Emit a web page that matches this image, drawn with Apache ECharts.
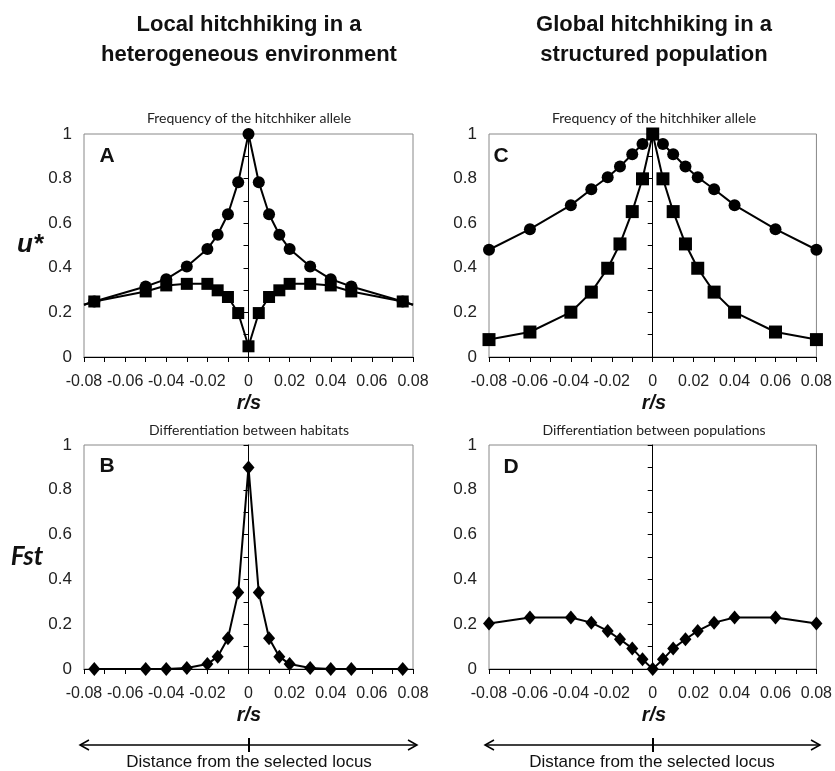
<!DOCTYPE html>
<html>
<head>
<meta charset="utf-8">
<title>Hitchhiking</title>
<script src="https://cdn.jsdelivr.net/npm/echarts@6/dist/echarts.min.js"></script>
<style>
  body { margin: 0; background: #fff; }
  #main { width: 835px; height: 771px; }
</style>
</head>
<body>
<div id="main"></div>
<script>
// r/s positions and values
var xA = [-0.08, -0.075, -0.05, -0.04, -0.03, -0.02, -0.015, -0.01, -0.005, 0, 0.005, 0.01, 0.015, 0.02, 0.03, 0.04, 0.05, 0.075, 0.08];
var circlesA = [0.234, 0.249, 0.316, 0.349, 0.406, 0.484, 0.548, 0.640, 0.784, 1.0, 0.784, 0.640, 0.548, 0.484, 0.406, 0.349, 0.316, 0.249, 0.234];
var squaresA = [0.234, 0.249, 0.294, 0.321, 0.328, 0.328, 0.299, 0.269, 0.197, 0.048, 0.197, 0.269, 0.299, 0.328, 0.328, 0.321, 0.294, 0.249, 0.234];

var xB = [-0.075, -0.05, -0.04, -0.03, -0.02, -0.015, -0.01, -0.005, 0, 0.005, 0.01, 0.015, 0.02, 0.03, 0.04, 0.05, 0.075];
var fstB = [0, 0, 0, 0.004, 0.022, 0.055, 0.137, 0.341, 0.900, 0.341, 0.137, 0.055, 0.022, 0.004, 0, 0, 0];

var xC = [-0.08, -0.06, -0.04, -0.03, -0.022, -0.016, -0.01, -0.005, 0, 0.005, 0.01, 0.016, 0.022, 0.03, 0.04, 0.06, 0.08];
var circlesC = [0.481, 0.573, 0.681, 0.752, 0.806, 0.854, 0.909, 0.955, 1.0, 0.955, 0.909, 0.854, 0.806, 0.752, 0.681, 0.573, 0.481];
var squaresC = [0.078, 0.112, 0.201, 0.291, 0.398, 0.507, 0.652, 0.799, 1.0, 0.799, 0.652, 0.507, 0.398, 0.291, 0.201, 0.112, 0.078];

var xD = xC;
var fstD = [0.203, 0.230, 0.230, 0.207, 0.170, 0.133, 0.092, 0.043, 0, 0.043, 0.092, 0.133, 0.170, 0.207, 0.230, 0.230, 0.203];

// the curves in A run on to the plot edge without a marker there
function pts(xs, ys, bareEnds) {
  return xs.map(function (x, i) {
    var p = { value: [x, ys[i]] };
    if (bareEnds && (i === 0 || i === xs.length - 1)) p.symbol = 'none';
    return p;
  });
}

var grids = [
  { left: 84, top: 134, width: 329, height: 223 },  // A
  { left: 489, top: 134, width: 329, height: 223 }, // C
  { left: 84, top: 445, width: 329, height: 224 },  // B
  { left: 489, top: 445, width: 329, height: 224 }  // D
];

var xAxes = grids.map(function (g, i) {
  return {
    type: 'value', gridIndex: i, min: -0.08, max: 0.08, interval: 0.02,
    axisLine: { show: true, onZero: false, lineStyle: { color: '#000', width: 1 } },
    axisTick: { show: true, length: 5, lineStyle: { color: '#000' } },
    minorTick: { show: true, splitNumber: 2, length: 5, lineStyle: { color: '#000' } },
    splitLine: { show: false },
    axisLabel: { margin: 17, fontFamily: 'Liberation Sans', fontSize: 16, color: '#222' }
  };
});
var yAxes = grids.map(function (g, i) {
  return {
    type: 'value', gridIndex: i, min: 0, max: 1, interval: 0.2,
    axisLine: { show: true, lineStyle: { color: '#000', width: 1 } },
    axisTick: { show: true, length: 5, lineStyle: { color: '#000' } },
    minorTick: { show: true, splitNumber: 2, length: 5, lineStyle: { color: '#000' } },
    splitLine: { show: false },
    axisLabel: { margin: 12, fontFamily: 'Liberation Sans', fontSize: 17, color: '#222' }
  };
});

var zeroLine = {
  silent: true, symbol: 'none', label: { show: false },
  lineStyle: { color: '#000', width: 1, type: 'solid' },
  data: [{ xAxis: 0 }]
};

function curve(gi, data, symbol, size, withZero) {
  var s = {
    type: 'line', xAxisIndex: gi, yAxisIndex: gi, data: data,
    symbol: symbol, symbolSize: size, showAllSymbol: true,
    lineStyle: { color: '#000', width: 2 },
    itemStyle: { color: '#000', borderWidth: 0 },
    animation: false, z: 3
  };
  if (withZero) s.markLine = zeroLine;
  return s;
}

var titleFont = { fontFamily: 'Liberation Sans', fontWeight: 'bold', fontSize: 22, color: '#111', lineHeight: 30 };
var subFont = { fontFamily: 'Lato', fontWeight: 'normal', fontSize: 14, color: '#222' };
var letterFont = { fontFamily: 'Liberation Sans', fontWeight: 'bold', fontSize: 21, color: '#111' };
var rsFont = { fontFamily: 'Liberation Sans', fontWeight: 'bold', fontStyle: 'italic', fontSize: 20, color: '#111' };
var distFont = { fontFamily: 'Liberation Sans', fontWeight: 'normal', fontSize: 17, color: '#111' };

function txt(text, x, y, style) {
  return { text: text, left: x, top: y, textAlign: 'center', textVerticalAlign: 'middle', textStyle: style, padding: 0 };
}

var titles = [
  txt('Local hitchhiking in a\nheterogeneous environment', 249, 40, titleFont),
  txt('Global hitchhiking in a\nstructured population', 654, 40, titleFont),
  txt('Frequency of the hitchhiker allele', 249, 118, subFont),
  txt('Frequency of the hitchhiker allele', 654, 118, subFont),
  txt('Differentiation between habitats', 249, 430, subFont),
  txt('Differentiation between populations', 654, 430, subFont),
  txt('A', 107, 156, letterFont),
  txt('C', 501, 156, letterFont),
  txt('B', 107, 466, letterFont),
  txt('D', 511, 467, letterFont),
  txt('u*', 30, 245, { fontFamily: 'Liberation Sans', fontWeight: 'bold', fontStyle: 'italic', fontSize: 26, color: '#111' }),
  txt('Fst', 27, 557, { fontFamily: 'Lato', fontWeight: 'bold', fontStyle: 'italic', fontSize: 26, color: '#111' }),
  txt('r/s', 249, 403, rsFont),
  txt('r/s', 654, 403, rsFont),
  txt('r/s', 249, 715, rsFont),
  txt('r/s', 654, 715, rsFont),
  txt('Distance from the selected locus', 249, 762, distFont),
  txt('Distance from the selected locus', 652, 762, distFont)
];

// double-headed arrows under the bottom panels
function arrow(x1, x2, xm, y) {
  var ls = { stroke: '#000', lineWidth: 1.5 };
  return [
    { type: 'line', shape: { x1: x1, y1: y, x2: x2, y2: y }, style: ls },
    { type: 'polyline', shape: { points: [[x1 + 9, y - 5], [x1, y], [x1 + 9, y + 5]] }, style: { stroke: '#000', lineWidth: 1.5, fill: null } },
    { type: 'polyline', shape: { points: [[x2 - 9, y - 5], [x2, y], [x2 - 9, y + 5]] }, style: { stroke: '#000', lineWidth: 1.5, fill: null } },
    { type: 'line', shape: { x1: xm, y1: y - 7, x2: xm, y2: y + 7 }, style: { stroke: '#000', lineWidth: 2 } }
  ];
}

var chart = echarts.init(document.getElementById('main'), null, { renderer: 'canvas' });
chart.setOption({
  backgroundColor: '#fff',
  animation: false,
  title: titles,
  grid: grids.map(function (g) {
    return Object.assign({ show: true, borderColor: '#888', borderWidth: 1, backgroundColor: 'transparent' }, g);
  }),
  xAxis: xAxes,
  yAxis: yAxes,
  graphic: arrow(80, 417, 249, 745).concat(arrow(485, 820, 653, 745)),
  series: [
    curve(0, pts(xA, circlesA, true), 'circle', 12, true),
    curve(0, pts(xA, squaresA, true), 'rect', 12, false),
    curve(1, pts(xC, circlesC, false), 'circle', 12, true),
    curve(1, pts(xC, squaresC, false), 'rect', 13, false),
    curve(2, pts(xB, fstB, false), 'diamond', [12, 14], true),
    curve(3, pts(xD, fstD, false), 'diamond', [12, 14], true)
  ]
});
</script>
</body>
</html>
